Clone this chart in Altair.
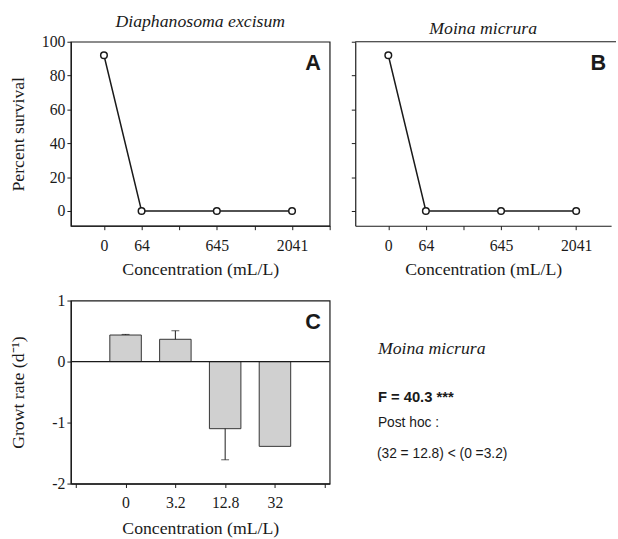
import altair as alt
import pandas as pd

# Survival at each concentration (panels A and B)
conc_labels = ["0", "64", "645", "2041"]
conc_pos = [0, 1, 3, 5]
survival_diaphanosoma = [92, 0, 0, 0]
survival_moina = [92, 0, 0, 0]

# Growth rate of Moina micrura (panel C)
growth_conc = ["0", "3.2", "12.8", "32"]
growth_rate = [0.435, 0.365, -1.10, -1.39]
growth_err = [0.01, 0.14, 0.51, 0.0]

# Statistics printed beside panel C
stat_species = "Moina micrura"
stat_f = "F = 40.3 ***"
stat_posthoc = "Post hoc :"
stat_order = "(32 = 12.8) < (0 =3.2)"

SERIF = "Liberation Serif"
SANS = "Liberation Sans"
INK = "#1a1a1a"
FRAME = 1.2


def label_expr(positions, labels):
    expr = "''"
    for p, lab in zip(reversed(positions), reversed(labels)):
        expr = f"datum.value == {p} ? '{lab}' : ({expr})"
    return expr


def panel_letter(letter, width, inset=9):
    return alt.Chart(pd.DataFrame({"letter": [letter]})).mark_text(
        align="right", baseline="alphabetic", font=SANS, fontWeight="bold",
        fontSize=22, color=INK,
    ).encode(text="letter:N", x=alt.value(width - inset), y=alt.value(29))


def survival_panel(values, title, letter, show_y, width, xmax, tick_values, inset):
    df = pd.DataFrame({"pos": conc_pos, "survival": values})
    x = alt.X(
        "pos:Q",
        scale=alt.Scale(domain=[-0.88, xmax], nice=False, zero=False),
        axis=alt.Axis(values=tick_values, labelExpr=label_expr(conc_pos, conc_labels),
                      title="Concentration (mL/L)", labelPadding=8, titlePadding=8),
    )
    y = alt.Y(
        "survival:Q",
        scale=alt.Scale(domain=[-8.7, 100], nice=False, zero=False),
        axis=alt.Axis(values=[0, 20, 40, 60, 80, 100], labels=show_y,
                      title="Percent survival" if show_y else "", titlePadding=14),
    )
    base = alt.Chart(df).encode(x=x, y=y)
    line = base.mark_line(color=INK, strokeWidth=1.5)
    pts = base.mark_point(shape="circle", filled=True, fill="white", stroke=INK,
                          strokeWidth=1.5, size=45, opacity=1)
    layers = [line, pts, panel_letter(letter, width, inset)]
    if show_y:
        view = alt.ViewBackground(stroke=INK, strokeWidth=FRAME)
    else:
        view = alt.ViewBackground(stroke="transparent")
        top = alt.Chart(pd.DataFrame({"k": [0]})).mark_rule(
            color=INK, strokeWidth=FRAME
        ).encode(x=alt.value(0), x2=alt.value(width + 5), y=alt.value(0))
        layers.append(top)
    return alt.layer(*layers).properties(
        width=width, height=187, view=view,
        title=alt.TitleParams(title, font=SERIF, fontStyle="italic", fontSize=18,
                              fontWeight="normal", color=INK, offset=3),
    )


panel_a = survival_panel(survival_diaphanosoma, "Diaphanosoma excisum", "A", True,
                         263, 6.0, [0, 1, 2, 3, 4, 5, 6], 9)
panel_b = survival_panel(survival_moina, "Moina micrura", "B", False,
                         260, 5.93, [0, 1, 2, 3, 4, 5], 5)

# Panel C: growth rate bars with one-sided error bars
gdf = pd.DataFrame({"pos": list(range(len(growth_rate))), "rate": growth_rate,
                    "err": growth_err})
gdf["end"] = gdf["rate"] + gdf["err"] * gdf["rate"].apply(lambda v: 1 if v >= 0 else -1)

cx = alt.X(
    "pos:Q",
    scale=alt.Scale(domain=[-1, 4], nice=False, zero=False),
    axis=alt.Axis(values=[-1, 0, 1, 2, 3, 4],
                  labelExpr=label_expr([0, 1, 2, 3], growth_conc),
                  title="Concentration (mL/L)", labelPadding=7, titlePadding=10),
)
cy_scale = alt.Scale(domain=[-2, 1], nice=False)
cy_axis = alt.Axis(
    values=[-2, -1.5, -1, -0.5, 0, 0.5, 1],
    labelExpr="datum.value % 1 == 0 ? (datum.value < 0 ? '-' + abs(datum.value) : '' + datum.value) : ''",
    title="Growt rate (d\u207b\u00b9)", titlePadding=25,
)
cbase = alt.Chart(gdf).encode(x=cx)
bars = cbase.mark_bar(width=32, color="#d0d0d0", stroke="#333333", strokeWidth=1).encode(
    y=alt.Y("rate:Q", scale=cy_scale, axis=cy_axis)
)
err_line = cbase.transform_filter("datum.err > 0").mark_rule(color=INK, strokeWidth=1).encode(
    y="rate:Q", y2="end:Q"
)
err_cap = cbase.transform_filter("datum.err > 0").mark_tick(
    orient="horizontal", size=8, thickness=1, color=INK
).encode(y="end:Q")
zero_line = alt.Chart(pd.DataFrame({"k": [0]})).mark_rule(color=INK, strokeWidth=FRAME).encode(
    y=alt.datum(0)
)
panel_c = alt.layer(bars, err_line, err_cap, zero_line, panel_letter("C", 263)).properties(
    width=263, height=186, view=alt.ViewBackground(stroke=INK, strokeWidth=FRAME)
)

# Statistics text beside panel C
tdf = pd.DataFrame({"k": [0]})
stats = alt.layer(
    alt.Chart(tdf).mark_text(text=stat_species, align="left", baseline="alphabetic",
                             font=SERIF, fontStyle="italic", fontSize=18, color=INK)
    .encode(x=alt.value(23), y=alt.value(54)),
    alt.Chart(tdf).mark_text(text=stat_f, align="left", baseline="alphabetic",
                             font=SANS, fontWeight="bold", fontSize=15, color=INK)
    .encode(x=alt.value(23), y=alt.value(103)),
    alt.Chart(tdf).mark_text(text=stat_posthoc, align="left", baseline="alphabetic",
                             font=SANS, fontSize=14, color=INK)
    .encode(x=alt.value(23), y=alt.value(129)),
    alt.Chart(tdf).mark_text(text=stat_order, align="left", baseline="alphabetic",
                             font=SANS, fontSize=14, color=INK)
    .encode(x=alt.value(22), y=alt.value(160)),
).properties(width=260, height=186, view=alt.ViewBackground(stroke="transparent"))

chart = alt.concat(
    panel_a, panel_b, panel_c, stats,
    columns=2, spacing={"row": 76, "column": 26}, bounds="flush", align="each",
).properties(
    padding={"left": 9, "top": 8, "right": 0, "bottom": 2},
    background="white",
).configure_axis(
    grid=False, domainColor=INK, domainWidth=FRAME, tickColor=INK, tickSize=4,
    tickWidth=1, labelFont=SERIF, labelFontSize=16, labelColor=INK,
    titleFont=SERIF, titleFontSize=18, titleFontWeight="normal", titleColor=INK,
).configure_view(stroke=INK)

chart.save("out.html", embed_options={"renderer": "svg", "actions": False})
